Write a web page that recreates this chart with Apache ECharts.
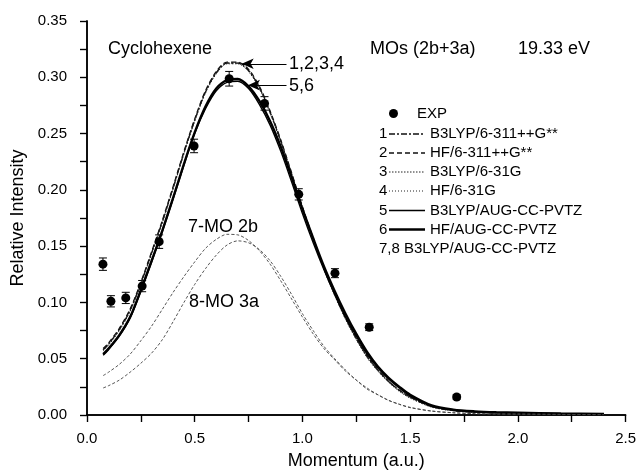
<!DOCTYPE html>
<html>
<head>
<meta charset="utf-8">
<script src="https://cdn.jsdelivr.net/npm/echarts@6.0.0/dist/echarts.min.js"></script>
<style>
  html, body { margin: 0; padding: 0; background: #fff; }
  #chart { width: 639px; height: 475px; }
</style>
</head>
<body>
<div id="chart"></div>
<script>
// momentum grid of the calculated curves (a.u.)
const momentum = [0.075, 0.1, 0.15, 0.2, 0.25, 0.3, 0.35, 0.4, 0.45, 0.5, 0.55, 0.6, 0.65, 0.7, 0.75, 0.8, 0.85, 0.9, 0.95, 1.0,
    1.05, 1.1, 1.15, 1.2, 1.25, 1.3, 1.35, 1.4, 1.45, 1.5, 1.6, 1.7, 1.8, 1.9, 2.0, 2.2, 2.4];

const curve1 = [0.058, 0.063, 0.076, 0.093, 0.117, 0.144, 0.172, 0.202, 0.233, 0.262, 0.287, 0.304, 0.3125, 0.3125, 0.306, 0.291, 0.269, 0.243, 0.214, 0.184,
    0.156, 0.130, 0.107, 0.086, 0.068, 0.052, 0.040, 0.030, 0.022, 0.016, 0.0075, 0.004, 0.0025, 0.0018, 0.0014, 0.0009, 0.0006];
const curve2 = [0.059, 0.064, 0.077, 0.094, 0.118, 0.145, 0.173, 0.203, 0.234, 0.263, 0.288, 0.305, 0.3135, 0.3135, 0.307, 0.292, 0.270, 0.244, 0.215, 0.185,
    0.157, 0.131, 0.108, 0.087, 0.068, 0.053, 0.040, 0.030, 0.022, 0.016, 0.0075, 0.004, 0.0025, 0.0018, 0.0014, 0.0009, 0.0006];
const curve3 = [0.057, 0.062, 0.075, 0.092, 0.116, 0.143, 0.171, 0.201, 0.232, 0.261, 0.286, 0.303, 0.312, 0.312, 0.305, 0.290, 0.268, 0.242, 0.213, 0.183,
    0.155, 0.129, 0.106, 0.085, 0.067, 0.051, 0.039, 0.029, 0.021, 0.015, 0.007, 0.0038, 0.0024, 0.0017, 0.0013, 0.0008, 0.0005];
const curve4 = [0.058, 0.063, 0.076, 0.093, 0.117, 0.144, 0.172, 0.202, 0.233, 0.262, 0.287, 0.3045, 0.313, 0.313, 0.3065, 0.291, 0.269, 0.243, 0.214, 0.184,
    0.156, 0.130, 0.107, 0.086, 0.068, 0.052, 0.040, 0.030, 0.022, 0.016, 0.0075, 0.004, 0.0025, 0.0018, 0.0014, 0.0009, 0.0006];
const curve5 = [0.053, 0.058, 0.070, 0.086, 0.110, 0.136, 0.163, 0.192, 0.222, 0.250, 0.272, 0.288, 0.2955, 0.2965, 0.290, 0.276, 0.2575, 0.234, 0.207, 0.179,
    0.153, 0.129, 0.107, 0.087, 0.070, 0.054, 0.042, 0.032, 0.024, 0.017, 0.008, 0.0045, 0.003, 0.0022, 0.0018, 0.0012, 0.0008];
const curve6 = [0.054, 0.059, 0.071, 0.087, 0.111, 0.137, 0.164, 0.193, 0.223, 0.251, 0.274, 0.290, 0.2975, 0.2985, 0.292, 0.279, 0.261, 0.238, 0.211, 0.183,
    0.157, 0.132, 0.110, 0.090, 0.072, 0.056, 0.043, 0.033, 0.025, 0.018, 0.0085, 0.0048, 0.0032, 0.0024, 0.002, 0.0014, 0.001];
const curve7 = [0.035, 0.038, 0.045, 0.054, 0.066, 0.079, 0.094, 0.109, 0.123, 0.136, 0.148, 0.156, 0.1605, 0.160, 0.155, 0.146, 0.134, 0.119, 0.103, 0.087,
    0.072, 0.059, 0.049, 0.039, 0.031, 0.023, 0.018, 0.013, 0.0095, 0.0065, 0.0035, 0.002, 0.0012, 0.0009, 0.0008, 0.0005, 0.0003];
const curve8 = [0.024, 0.026, 0.031, 0.038, 0.046, 0.055, 0.067, 0.083, 0.100, 0.116, 0.130, 0.142, 0.151, 0.1547, 0.153, 0.147, 0.137, 0.123, 0.107, 0.090,
    0.075, 0.061, 0.050, 0.040, 0.031, 0.024, 0.018, 0.013, 0.0095, 0.0068, 0.0035, 0.002, 0.0012, 0.0009, 0.0008, 0.0005, 0.0003];

// experiment
const expMomentum = [0.074, 0.111, 0.18, 0.256, 0.335, 0.497, 0.66, 0.824, 0.983, 1.151, 1.31, 1.716];
const expIntensity = [0.134, 0.101, 0.104, 0.1145, 0.154, 0.239, 0.2987, 0.2768, 0.196, 0.126, 0.078, 0.016];
const expError = [0.0055, 0.005, 0.005, 0.005, 0.006, 0.006, 0.0065, 0.006, 0.005, 0.004, 0.003, 0.002];

const legendNames = ['B3LYP/6-311++G**', 'HF/6-311++G**', 'B3LYP/6-31G', 'HF/6-31G', 'B3LYP/AUG-CC-PVTZ', 'HF/AUG-CC-PVTZ'];

const FONT = "'Liberation Sans', Arial, sans-serif";

function pairs(ys) {
    return momentum.map(function (x, i) { return [x, ys[i]]; });
}

function curveSeries(name, ys, color, width, dash) {
    return {
        name: name,
        type: 'line',
        data: pairs(ys),
        smooth: 0.3,
        showSymbol: false,
        silent: true,
        lineStyle: { color: color, width: width, type: dash }
    };
}

let styles = [
    { color: '#111', width: 1.3, dash: [6, 2, 2, 2] },
    { color: '#111', width: 1.3, dash: [5, 3] },
    { color: '#222', width: 1, dash: [1.5, 1.5] },
    { color: '#222', width: 1, dash: [1, 2] },
    { color: '#000', width: 1.4, dash: 'solid' },
    { color: '#000', width: 2.4, dash: 'solid' }
];
let curves = [curve1, curve2, curve3, curve4, curve5, curve6];

let series = [];
for (let i = 0; i < curves.length; i++) {
    series.push(curveSeries(legendNames[i], curves[i], styles[i].color, styles[i].width, styles[i].dash));
}
series.push(curveSeries('7-MO 2b', curve7, '#444', 0.9, [3, 2]));
series.push(curveSeries('8-MO 3a', curve8, '#444', 0.9, [3, 2]));

// arrows pointing at the peaks
series[0].markLine = {
    silent: true,
    symbol: ['arrow', 'none'],
    symbolSize: [8, 12],
    lineStyle: { color: '#000', width: 1.2, type: 'solid' },
    label: { show: false },
    data: [
        [{ coord: [0.718, 0.312] }, { coord: [0.926, 0.312] }],
        [{ coord: [0.747, 0.293] }, { coord: [0.926, 0.293] }]
    ]
};

// error bars
series.push({
    name: 'EXP error',
    type: 'custom',
    silent: true,
    data: expMomentum.map(function (x, i) { return [x, expIntensity[i], expError[i]]; }),
    renderItem: function (params, api) {
        let x = api.value(0), y = api.value(1), e = api.value(2);
        let top = api.coord([x, y + e]);
        let bot = api.coord([x, y - e]);
        let cap = 4;
        let st = { stroke: '#000', lineWidth: 1 };
        return {
            type: 'group',
            children: [
                { type: 'line', shape: { x1: top[0], y1: top[1], x2: bot[0], y2: bot[1] }, style: st },
                { type: 'line', shape: { x1: top[0] - cap, y1: top[1], x2: top[0] + cap, y2: top[1] }, style: st },
                { type: 'line', shape: { x1: bot[0] - cap, y1: bot[1], x2: bot[0] + cap, y2: bot[1] }, style: st }
            ]
        };
    },
    z: 3
});
series.push({
    name: 'EXP',
    type: 'scatter',
    symbol: 'circle',
    symbolSize: 9,
    silent: true,
    itemStyle: { color: '#000', opacity: 1 },
    data: expMomentum.map(function (x, i) { return [x, expIntensity[i]]; }),
    z: 4
});

// legend and annotations drawn as graphic elements
let graphics = [];
function addText(text, x, y, size) {
    graphics.push({
        type: 'text', x: x, y: y, silent: true,
        style: { text: text, fontSize: size, fontFamily: FONT, fill: '#000', align: 'left', verticalAlign: 'middle' }
    });
}
graphics.push({ type: 'circle', shape: { cx: 393.5, cy: 113.5, r: 4.5 }, style: { fill: '#000' }, silent: true });
addText('EXP', 417, 113.5, 15);
let rowY = [134, 153, 172, 191, 210.5, 229.5];
for (let i = 0; i < rowY.length; i++) {
    addText(String(i + 1), 379, rowY[i], 15);
    graphics.push({
        type: 'line', silent: true,
        shape: { x1: 389, y1: rowY[i], x2: 425, y2: rowY[i] },
        style: { stroke: styles[i].color, lineWidth: styles[i].width, lineDash: styles[i].dash === 'solid' ? null : styles[i].dash }
    });
    addText(legendNames[i], 430, rowY[i], 15);
}
addText('7,8 B3LYP/AUG-CC-PVTZ', 379, 248.5, 15);

addText('Cyclohexene', 108, 49, 18);
addText('MOs (2b+3a)', 370, 49, 18);
addText('19.33 eV', 518, 49, 18);
addText('1,2,3,4', 289, 64, 18);
addText('5,6', 289, 86, 18);
addText('7-MO 2b', 188, 227, 18);
addText('8-MO 3a', 189, 302, 18);

let axisLine = { show: true, lineStyle: { color: '#000', width: 1.5 } };

let option = {
    animation: false,
    backgroundColor: '#fff',
    textStyle: { fontFamily: FONT },
    grid: { left: 87, right: 12, top: 21, bottom: 54, containLabel: false },
    xAxis: [
        {
            type: 'value', min: 0, max: 2.5, interval: 0.25,
            name: 'Momentum (a.u.)', nameLocation: 'middle', nameGap: 37,
            nameTextStyle: { fontSize: 18, color: '#000', fontFamily: FONT },
            axisLine: axisLine,
            axisTick: { show: true, length: 7, lineStyle: { color: '#000', width: 1.2 } },
            axisLabel: {
                color: '#000', fontSize: 15, fontFamily: FONT, margin: 16,
                formatter: function (v) { return Math.round(v * 100) % 50 === 0 ? v.toFixed(1) : ''; }
            },
            splitLine: { show: false }
        },
        {
            type: 'value', min: 0, max: 2.5, interval: 0.25, position: 'top',
            axisLine: axisLine,
            axisTick: { show: true, inside: true, length: 7, lineStyle: { color: '#000', width: 1.2 } },
            axisLabel: { show: false },
            splitLine: { show: false }
        }
    ],
    yAxis: [
        {
            type: 'value', min: 0, max: 0.35, interval: 0.025,
            name: 'Relative Intensity', nameLocation: 'middle', nameGap: 42,
            nameTextStyle: { fontSize: 18, color: '#000', fontFamily: FONT },
            axisLine: axisLine,
            axisTick: { show: true, length: 7, lineStyle: { color: '#000', width: 1.2 } },
            axisLabel: {
                color: '#000', fontSize: 15, fontFamily: FONT, margin: 20,
                formatter: function (v) { return Math.round(v * 1000) % 50 === 0 ? v.toFixed(2) : ''; }
            },
            splitLine: { show: false }
        },
        {
            type: 'value', min: 0, max: 0.35, interval: 0.025, position: 'right',
            axisLine: axisLine,
            axisTick: { show: true, inside: true, length: 7, lineStyle: { color: '#000', width: 1.2 } },
            axisLabel: { show: false },
            splitLine: { show: false }
        }
    ],
    graphic: graphics,
    series: series
};

let chart = echarts.init(document.getElementById('chart'), null, { renderer: 'canvas' });
chart.setOption(option);
</script>
</body>
</html>
